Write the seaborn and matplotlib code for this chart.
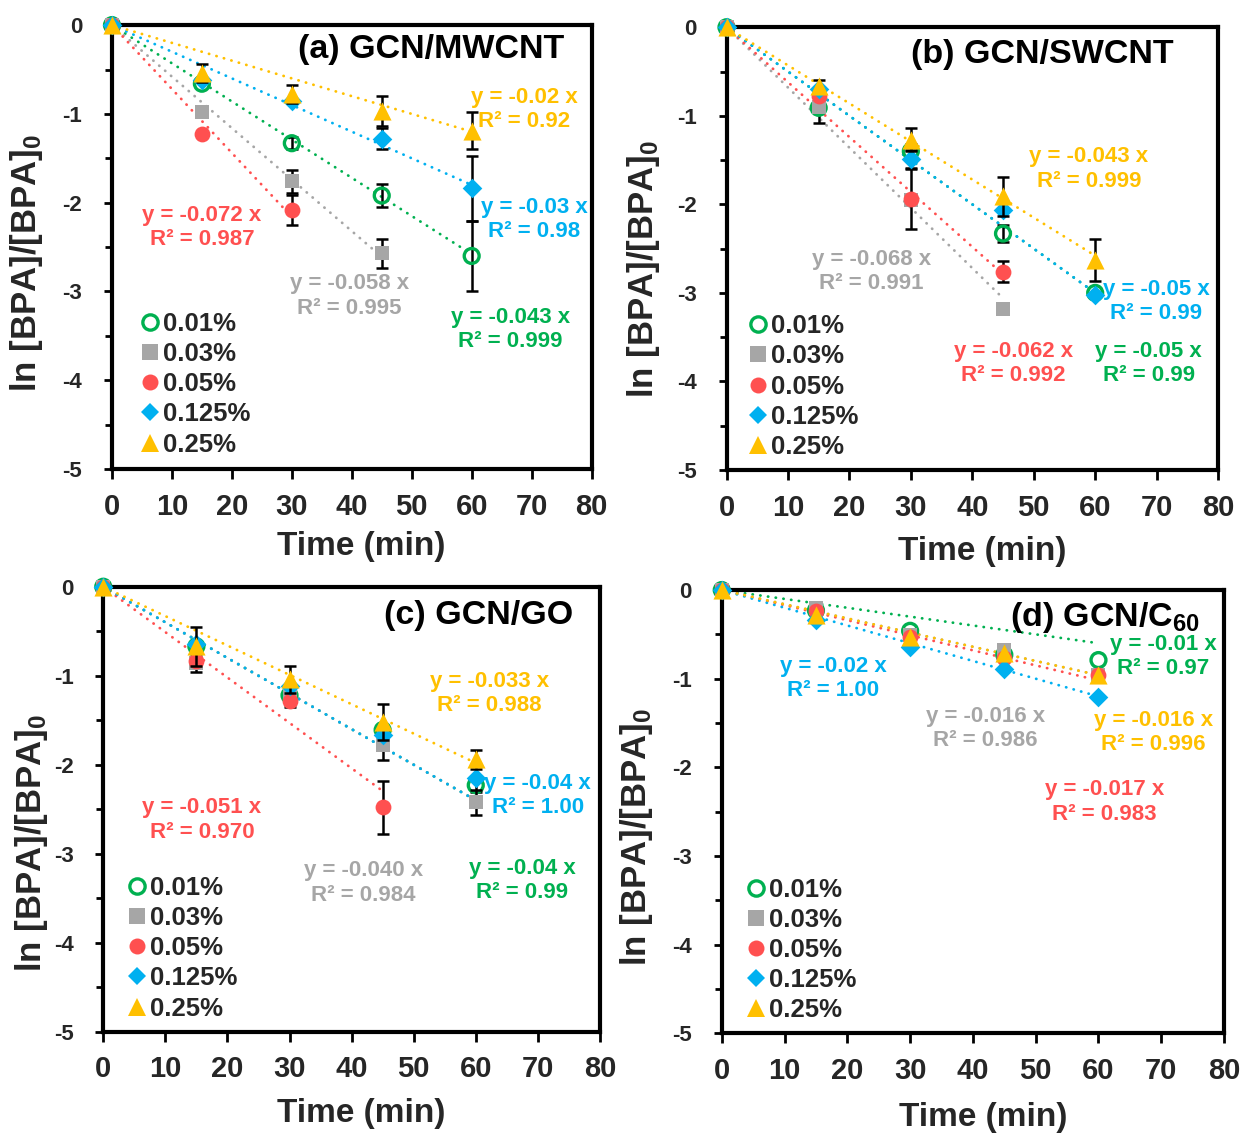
import matplotlib
matplotlib.use("Agg")
import matplotlib.pyplot as plt
from matplotlib.lines import Line2D
from matplotlib.ticker import MultipleLocator
import pandas as pd
import seaborn as sns

sns.set_theme(style="ticks")
plt.rcParams["font.family"] = ["Liberation Sans", "DejaVu Sans"]
plt.rcParams["font.weight"] = "bold"
plt.rcParams["axes.unicode_minus"] = False
plt.rcParams["mathtext.fontset"] = "custom"
plt.rcParams["mathtext.rm"] = "Liberation Sans:bold"
plt.rcParams["mathtext.bf"] = "Liberation Sans:bold"
plt.rcParams["mathtext.it"] = "Liberation Sans:bold"

# ---- data -----------------------------------------------------------------
time_min = [0, 15, 30, 45, 60]
loadings = ["0.01%", "0.03%", "0.05%", "0.125%", "0.25%"]
colors = ["#00B050", "#A6A6A6", "#FF5050", "#00B0F0", "#FFC000"]
panel_titles = ["(a) GCN/MWCNT", "(b) GCN/SWCNT", "(c) GCN/GO", "(d) GCN/C$_{60}$"]

# ln([BPA]/[BPA]0) for each loading (series stop where sampling stopped)
mwcnt_001 = [0, -0.66, -1.33, -1.92, -2.60]
mwcnt_003 = [0, -0.98, -1.76, -2.57]
mwcnt_005 = [0, -1.23, -2.08]
mwcnt_0125 = [0, -0.62, -0.86, -1.28, -1.84]
mwcnt_025 = [0, -0.54, -0.78, -0.97, -1.19]

swcnt_001 = [0, -0.91, -1.40, -2.33, -3.00]
swcnt_003 = [0, -0.90, -1.95, -3.18]
swcnt_005 = [0, -0.78, -1.94, -2.76]
swcnt_0125 = [0, -0.70, -1.49, -2.06, -3.02]
swcnt_025 = [0, -0.66, -1.27, -1.91, -2.63]

go_001 = [0, -0.67, -1.22, -1.61, -2.23]
go_003 = [0, -0.86, -1.22, -1.78, -2.42]
go_005 = [0, -0.83, -1.28, -2.48]
go_0125 = [0, -0.64, -1.12, -1.67, -2.15]
go_025 = [0, -0.67, -1.04, -1.52, -1.94]

c60_001 = [0, -0.23, -0.46, -0.73, -0.79]
c60_003 = [0, -0.20, -0.51, -0.68, -0.96]
c60_005 = [0, -0.24, -0.53, -0.77, -0.96]
c60_0125 = [0, -0.34, -0.64, -0.89, -1.21]
c60_025 = [0, -0.28, -0.53, -0.71, -0.96]

# standard deviations (0 = no bar)
mwcnt_001_sd = [0, 0, 0.07, 0.13, 0.39]
mwcnt_003_sd = [0, 0, 0.13, 0.16]
mwcnt_005_sd = [0, 0, 0.17]
mwcnt_0125_sd = [0, 0, 0, 0.12, 0.37]
mwcnt_025_sd = [0, 0.10, 0.10, 0.17, 0.21]

swcnt_001_sd = [0, 0.17, 0.08, 0.10, 0]
swcnt_003_sd = [0, 0, 0, 0]
swcnt_005_sd = [0, 0, 0.34, 0.12]
swcnt_0125_sd = [0, 0, 0.10, 0, 0]
swcnt_025_sd = [0, 0.07, 0.13, 0.22, 0.24]

go_001_sd = [0, 0, 0.10, 0, 0.08]
go_003_sd = [0, 0.10, 0.13, 0.17, 0.14]
go_005_sd = [0, 0, 0, 0.30]
go_0125_sd = [0, 0, 0, 0, 0]
go_025_sd = [0, 0.22, 0.15, 0.20, 0.11]

c60_001_sd = [0, 0, 0, 0, 0]
c60_003_sd = [0, 0, 0, 0, 0]
c60_005_sd = [0, 0, 0, 0, 0]
c60_0125_sd = [0, 0, 0, 0, 0]
c60_025_sd = [0, 0, 0, 0, 0]

# first-order fits through the origin: slope and R^2
mwcnt_slope = ["-0.043", "-0.058", "-0.072", "-0.03", "-0.02"]
mwcnt_r2 = ["0.999", "0.995", "0.987", "0.98", "0.92"]
swcnt_slope = ["-0.05", "-0.068", "-0.062", "-0.05", "-0.043"]
swcnt_r2 = ["0.99", "0.991", "0.992", "0.99", "0.999"]
go_slope = ["-0.04", "-0.040", "-0.051", "-0.04", "-0.033"]
go_r2 = ["0.99", "0.984", "0.970", "1.00", "0.988"]
c60_slope = ["-0.01", "-0.016", "-0.017", "-0.02", "-0.016"]
c60_r2 = ["0.97", "0.986", "0.983", "1.00", "0.996"]

panels = [
    dict(values=[mwcnt_001, mwcnt_003, mwcnt_005, mwcnt_0125, mwcnt_025],
         sd=[mwcnt_001_sd, mwcnt_003_sd, mwcnt_005_sd, mwcnt_0125_sd, mwcnt_025_sd],
         slope=mwcnt_slope, r2=mwcnt_r2),
    dict(values=[swcnt_001, swcnt_003, swcnt_005, swcnt_0125, swcnt_025],
         sd=[swcnt_001_sd, swcnt_003_sd, swcnt_005_sd, swcnt_0125_sd, swcnt_025_sd],
         slope=swcnt_slope, r2=swcnt_r2),
    dict(values=[go_001, go_003, go_005, go_0125, go_025],
         sd=[go_001_sd, go_003_sd, go_005_sd, go_0125_sd, go_025_sd],
         slope=go_slope, r2=go_r2),
    dict(values=[c60_001, c60_003, c60_005, c60_0125, c60_025],
         sd=[c60_001_sd, c60_003_sd, c60_005_sd, c60_0125_sd, c60_025_sd],
         slope=c60_slope, r2=c60_r2),
]

# ---- layout ---------------------------------------------------------------
axes_rects = [
    (0.0898, 0.5871, 0.3846, 0.3908),
    (0.5826, 0.5863, 0.3942, 0.3897),
    (0.0828, 0.0918, 0.3983, 0.3917),
    (0.5788, 0.0904, 0.4028, 0.3902),
]
title_xy = [(53.3, -0.28), (51.4, -0.31), (60.4, -0.32), (61.0, -0.31)]
eq_xy = [
    [(66.5, -3.43), (39.6, -3.05), (15.0, -2.28), (70.4, -2.19), (68.8, -0.95)],
    [(68.7, -3.80), (23.6, -2.76), (46.7, -3.80), (69.9, -3.10), (59.0, -1.60)],
    [(67.5, -3.30), (41.9, -3.33), (15.9, -2.62), (70.0, -2.35), (62.2, -1.20)],
    [(70.3, -0.75), (42.0, -1.56), (60.9, -2.39), (17.8, -1.00), (68.8, -1.61)],
]
ylabel_pos = [(-0.140, 0.465), (-0.132, 0.454), (-0.107, 0.425), (-0.133, 0.444)]
xlabel_y = [-0.139, -0.15, -0.15, -0.155]
legend_anchor = [(0.061, 0.028), (0.046, 0.025), (0.050, 0.025), (0.050, 0.025)]

markers = ["o", "s", "o", "D", "^"]
marker_size = [115, 115, 130, 100, 170]
dotted = (0, (0.1, 2.7))

fig = plt.figure(figsize=(12.47, 11.36), dpi=100)

for p, panel in enumerate(panels):
    ax = fig.add_axes(axes_rects[p])
    for i, (vals, sd) in enumerate(zip(panel["values"], panel["sd"])):
        t = time_min[:len(vals)]
        df = pd.DataFrame({"time": t, "lnC": vals, "sd": sd})
        c = colors[i]
        # fitted line y = k t drawn over the sampled time span
        k = float(panel["slope"][i])
        fit = pd.DataFrame({"time": [0, t[-1]]})
        fit["lnC"] = k * fit["time"]
        sns.lineplot(data=fit, x="time", y="lnC", ax=ax, color=c, linewidth=2.0,
                     linestyle=dotted, dash_capstyle="round", zorder=2)
        # error bars
        has = df[df["sd"] > 0]
        if len(has):
            ax.errorbar(has["time"], has["lnC"], yerr=has["sd"], fmt="none",
                        ecolor="black", elinewidth=1.8, capsize=4, capthick=1.8,
                        zorder=3 + i)
        # markers
        if i == 0:
            sns.scatterplot(data=df, x="time", y="lnC", ax=ax, marker="o",
                            s=marker_size[i], color=c, facecolor="none",
                            edgecolor=c, linewidth=2.4, zorder=4 + i, clip_on=False)
        else:
            sns.scatterplot(data=df, x="time", y="lnC", ax=ax, marker=markers[i],
                            s=marker_size[i], color=c, edgecolor=c, linewidth=0,
                            zorder=4 + i, clip_on=False)
        tx, ty = eq_xy[p][i]
        ax.text(tx, ty, f"y = {panel['slope'][i]} x\nR² = {panel['r2'][i]}",
                ha="center", va="center", multialignment="center",
                fontsize=16, fontweight="bold", color=c, linespacing=1.2,
                zorder=10)

    ax.set_xlim(0, 80)
    ax.set_ylim(-5, 0)
    ax.xaxis.set_major_locator(MultipleLocator(10))
    ax.yaxis.set_major_locator(MultipleLocator(1))
    ax.yaxis.set_minor_locator(MultipleLocator(0.5))
    ax.tick_params(axis="x", which="major", direction="out", length=7, width=2,
                   labelsize=21, pad=10, bottom=True, color="black")
    ax.tick_params(axis="y", which="major", direction="out", length=6, width=2,
                   labelsize=16, pad=15.5, left=True, color="black")
    ax.tick_params(axis="y", which="minor", direction="out", length=5, width=2,
                   left=True, color="black")
    for s in ax.spines.values():
        s.set_linewidth(3)
        s.set_color("black")
        s.set_visible(True)

    ax.set_xlabel("Time (min)", fontsize=24, fontweight="bold")
    ax.xaxis.set_label_coords(0.52, xlabel_y[p])
    ax.set_ylabel(r"ln [BPA]/[BPA]$_\mathbf{0}$", fontsize=25, fontweight="bold")
    ax.yaxis.set_label_coords(*ylabel_pos[p])

    ax.text(*title_xy[p], panel_titles[p], ha="center", va="center",
            fontsize=24.5, fontweight="bold", color="black", zorder=10)

    handles = []
    for i in range(5):
        if i == 0:
            h = Line2D([], [], linestyle="none", marker="o", markersize=11,
                       markerfacecolor="none", markeredgecolor=colors[i],
                       markeredgewidth=2.4)
        else:
            h = Line2D([], [], linestyle="none", marker=markers[i],
                       markersize=[0, 11, 11.5, 9.5, 12.5][i],
                       markerfacecolor=colors[i], markeredgewidth=0)
        handles.append(h)
    ax.legend(handles, loadings, loc="lower left",
              bbox_to_anchor=legend_anchor[p], frameon=False,
              handlelength=0.7, handletextpad=0.15, labelspacing=0.24,
              borderaxespad=0, borderpad=0,
              prop=dict(size=18.5, weight="bold"))

fig.savefig("out.png", dpi=100)
